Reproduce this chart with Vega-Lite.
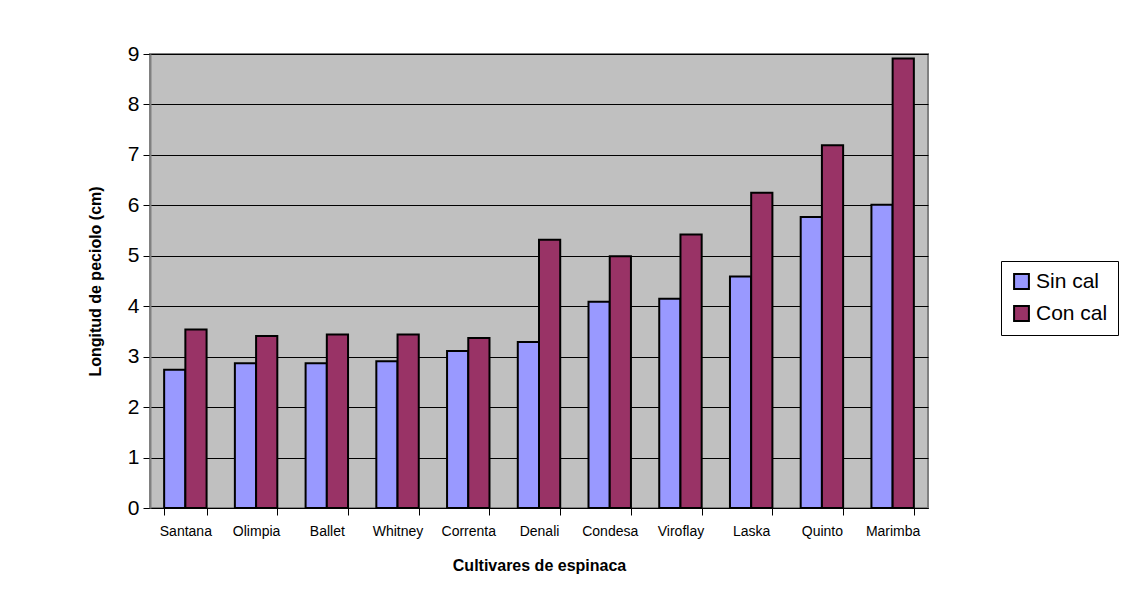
{
  "$schema": "https://vega.github.io/schema/vega-lite/v6.json",
  "width": 778,
  "height": 454,
  "autosize": {"type": "none"},
  "padding": {"left": 150, "top": 54, "right": 197, "bottom": 83},
  "background": "white",
  "config": {
    "font": "Liberation Sans",
    "view": {"fill": "#C0C0C0", "stroke": "#808080", "strokeWidth": 2}
  },
  "data": {
    "values": [
      {"cultivar": "Santana", "serie": "Sin cal", "valor": 2.74},
      {"cultivar": "Santana", "serie": "Con cal", "valor": 3.54},
      {"cultivar": "Olimpia", "serie": "Sin cal", "valor": 2.87},
      {"cultivar": "Olimpia", "serie": "Con cal", "valor": 3.41},
      {"cultivar": "Ballet", "serie": "Sin cal", "valor": 2.87},
      {"cultivar": "Ballet", "serie": "Con cal", "valor": 3.44},
      {"cultivar": "Whitney", "serie": "Sin cal", "valor": 2.91},
      {"cultivar": "Whitney", "serie": "Con cal", "valor": 3.44},
      {"cultivar": "Correnta", "serie": "Sin cal", "valor": 3.11},
      {"cultivar": "Correnta", "serie": "Con cal", "valor": 3.37},
      {"cultivar": "Denali", "serie": "Sin cal", "valor": 3.29},
      {"cultivar": "Denali", "serie": "Con cal", "valor": 5.32},
      {"cultivar": "Condesa", "serie": "Sin cal", "valor": 4.09},
      {"cultivar": "Condesa", "serie": "Con cal", "valor": 4.99},
      {"cultivar": "Viroflay", "serie": "Sin cal", "valor": 4.15},
      {"cultivar": "Viroflay", "serie": "Con cal", "valor": 5.42},
      {"cultivar": "Laska", "serie": "Sin cal", "valor": 4.59},
      {"cultivar": "Laska", "serie": "Con cal", "valor": 6.25},
      {"cultivar": "Quinto", "serie": "Sin cal", "valor": 5.77},
      {"cultivar": "Quinto", "serie": "Con cal", "valor": 7.19},
      {"cultivar": "Marimba", "serie": "Sin cal", "valor": 6.01},
      {"cultivar": "Marimba", "serie": "Con cal", "valor": 8.91}
    ]
  },
  "mark": {"type": "bar", "stroke": "black", "strokeWidth": 2},
  "encoding": {
    "x": {
      "field": "cultivar",
      "type": "nominal",
      "sort": null,
      "scale": {"paddingInner": 0.4, "paddingOuter": 0.2},
      "axis": {
        "title": "Cultivares de espinaca",
        "titleFont": "Liberation Sans",
        "titleFontSize": 16,
        "titleFontWeight": "bold",
        "titleColor": "black",
        "titlePadding": 19,
        "labelAngle": 0,
        "labelFontSize": 14,
        "labelColor": "black",
        "labelPadding": 9,
        "tickBand": "extent",
        "tickColor": "black",
        "tickSize": 7,
        "domainColor": "black",
        "grid": false
      }
    },
    "xOffset": {"field": "serie", "type": "nominal", "sort": ["Sin cal", "Con cal"]},
    "y": {
      "field": "valor",
      "type": "quantitative",
      "scale": {"domain": [0, 9], "nice": false},
      "axis": {
        "title": "Longitud de peciolo (cm)",
        "titleFont": "Liberation Sans",
        "titleFontSize": 16,
        "titleFontWeight": "bold",
        "titleColor": "black",
        "titlePadding": 24,
        "values": [0, 1, 2, 3, 4, 5, 6, 7, 8, 9],
        "labelFontSize": 21,
        "labelColor": "black",
        "labelPadding": 4,
        "tickColor": "black",
        "tickSize": 7,
        "domainColor": "#808080",
        "domainWidth": 2,
        "gridColor": "black",
        "gridWidth": 1
      }
    },
    "color": {
      "field": "serie",
      "type": "nominal",
      "sort": ["Sin cal", "Con cal"],
      "scale": {"domain": ["Sin cal", "Con cal"], "range": ["#9999FF", "#993366"]},
      "legend": {
        "title": null,
        "orient": "none",
        "legendX": 851,
        "legendY": 207,
        "symbolType": "square",
        "symbolSize": 220,
        "symbolStrokeColor": "black",
        "symbolStrokeWidth": 2,
        "symbolOpacity": 1,
        "labelFontSize": 21,
        "labelColor": "black",
        "labelOffset": 4,
        "rowPadding": 9,
        "strokeColor": "black",
        "fillColor": "white",
        "padding": 10
      }
    }
  }
}
